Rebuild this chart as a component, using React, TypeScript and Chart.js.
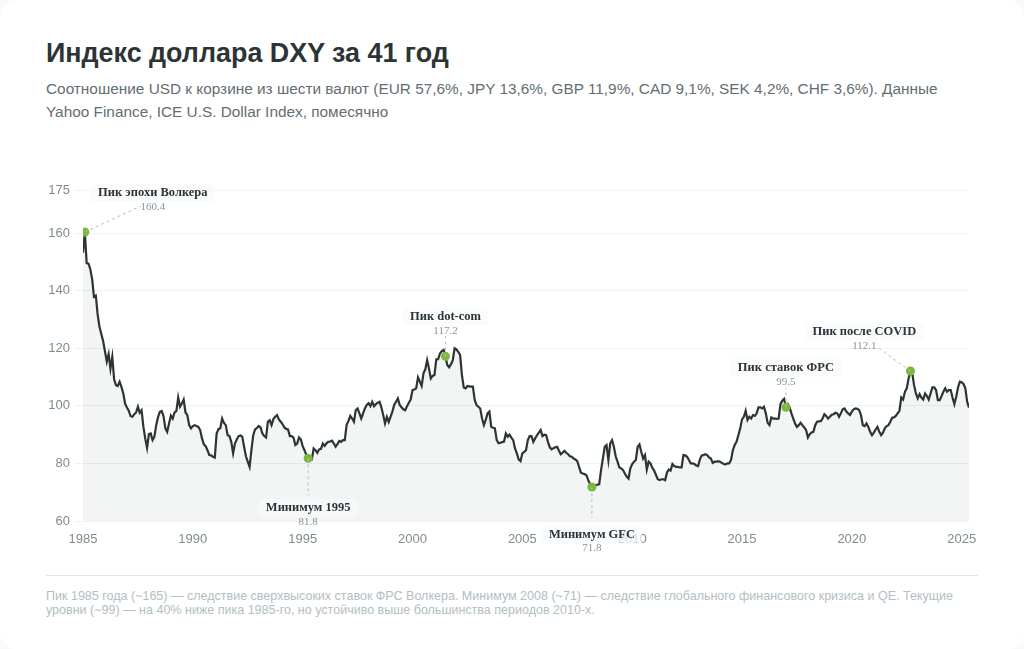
import React, { useEffect, useRef } from 'react';
import { Chart, registerables } from 'chart.js';

Chart.register(...registerables);

const startYear = 1985;

// DXY month by month, one row per year
const dxyMonthly = [
  153.2, 160.4, 149.6, 149.4, 147.5, 144, 137.9, 138.3, 131.7, 127.5, 125, 122.5,
  119, 115.4, 118, 112.9, 117, 109.2, 107.2, 106.9, 108.4, 106.6, 104.3, 100.8,
  99.4, 98.3, 96.4, 96.2, 97.1, 97.7, 99.7, 97.6, 98.5, 92.7, 88.7, 85.4,
  90.2, 90.4, 88.1, 89.3, 93.3, 96.2, 97.9, 98.2, 96.4, 92.2, 91, 93.9,
  96.6, 95.6, 97.7, 98.2, 102.9, 99.7, 100.8, 102.2, 97.7, 96.8, 93.3, 92.2,
  93, 93.3, 93, 92.7, 91.6, 88.7, 86.7, 86, 84.6, 82.9, 82.8, 82.3,
  82, 90.4, 91.9, 92.2, 95.6, 94.1, 93.3, 89.8, 89.5, 87.5, 83.5, 86.9,
  88.3, 89.5, 89.7, 89.3, 85.8, 82.5, 80.6, 78.8, 84.6, 89.8, 91.8, 92.3,
  93, 92.5, 90.4, 89.5, 89, 94.5, 95, 93.3, 95.4, 96.2, 96.8, 95.3,
  94.5, 93.7, 92.5, 92, 91.8, 89.5, 89.5, 89, 86.4, 86.9, 89, 88.3,
  86, 84.6, 82.9, 81.8, 81.4, 81.4, 85.2, 84.6, 83.7, 84.9, 85.1, 86.9,
  86.1, 87, 87.5, 87.6, 87.9, 87, 85.8, 86.7, 87.8, 87.5, 88.1, 88.1,
  93.3, 94.8, 96.5, 95.6, 94.5, 98.5, 99.1, 97.4, 95.6, 97.4, 99.1, 100.3,
  100.9, 99.9, 101.4, 99.9, 100.6, 101.1, 101.4, 99.5, 96.8, 93.9, 96.2, 94.4,
  96.2, 98, 100.3, 101.4, 102.6, 100.3, 99.5, 98.8, 98.5, 99.9, 101.1, 102.2,
  105.5, 105.7, 106.1, 109.9, 108.4, 106.9, 111.3, 112.7, 115.9, 113, 109.5, 110.4,
  110.7, 116.2, 116.2, 118.2, 119, 119.4, 117.2, 114.2, 113.4, 114.5, 115.9, 120,
  119.6, 118.8, 117.7, 110.7, 106.4, 106.1, 106.9, 106.8, 106.7, 106.7, 102, 100.3,
  99.7, 99.1, 95.6, 93.3, 95.1, 97.4, 98, 92.7, 92.4, 92.2, 88.1, 87,
  87.2, 87.4, 87.6, 90.4, 89.3, 90, 89, 88.1, 85.2, 83.5, 81.4, 80.8,
  83.5, 84, 84.6, 88.1, 89.5, 89.5, 87.5, 88.7, 89.8, 90.7, 91.6, 89.5,
  90, 89.8, 87.5, 85.6, 84.9, 85.3, 85.6, 85.8, 84.4, 83.2, 83.7, 84.4,
  83.7, 83.2, 82.5, 82.3, 81.7, 81.4, 80.8, 78.8, 76.8, 76.5, 76.3, 75.9,
  74.2, 72.8, 71.8, 72.1, 72.4, 72.6, 72.8, 77.7, 81.7, 85.8, 86.4, 81.2,
  86.9, 88.1, 85.8, 82.5, 80.6, 78.6, 78.3, 77.7, 76.5, 75.4, 74.7, 78.3,
  79.8, 80.6, 81.2, 85.8, 86.6, 84, 81.7, 82.9, 77.9, 80.6, 80, 78.5,
  77.5, 76, 74.5, 74.2, 74.5, 74.5, 74.2, 76.8, 77.9, 77.5, 79.8, 79.1,
  78.8, 78.8, 78.6, 78.6, 82.9, 82.8, 82.3, 81.2, 80, 80, 79.8, 79.3,
  79.1, 81.4, 82.8, 82.9, 83.2, 82.9, 82.1, 81.7, 80.2, 80.6, 80.6, 80.8,
  80.6, 80.2, 79.8, 79.7, 80, 80, 81.2, 84.6, 86.4, 87.5, 89.8, 92.1,
  95.3, 96.2, 98.3, 95.1, 96.2, 95.6, 96.8, 96.5, 97.4, 99.5, 99.5, 99.1,
  99.7, 97.4, 94.1, 93.3, 96, 95.6, 95.6, 95.5, 95.6, 100.6, 101.8, 102.4,
  99.5, 100.6, 99.5, 97.4, 95.6, 93.9, 92.7, 93.3, 94.1, 93.3, 92.5, 91.6,
  89, 90.2, 90.8, 91, 93.3, 94.5, 94.6, 94.7, 95.6, 97.1, 96.5, 95.6,
  96.2, 96.9, 97.1, 97.6, 97.4, 96.2, 97.4, 98.8, 99.1, 98, 97.4, 96.8,
  98, 98.8, 99.1, 99, 98.5, 96.8, 93.3, 93, 93.9, 92.7, 91, 89.8,
  90.7, 91.8, 92.7, 91, 89.8, 90.7, 92.2, 93, 93.3, 94.5, 95.9, 96,
  96.5, 97.4, 98.3, 102.9, 102.2, 104.9, 106.1, 109.5, 112.1, 111.3, 107.2, 104.3,
  102.6, 104.1, 102.9, 102.2, 104.3, 103.4, 102.2, 104.3, 106.4, 106.4, 105.5, 102,
  102, 103.4, 104.9, 106.1, 104.9, 105.5, 105.5, 102.9, 100.6, 103.2, 106.4, 108.4,
  108.2, 107.6, 106.1, 101.4, 99.4,
];

const yTicks = [60, 80, 100, 120, 140, 160, 175];

// months since Jan 1985, names and values of the marked points
const markerMonths = [1, 123, 198, 278, 384, 452];
const markerNames = ['Пик эпохи Волкера', 'Минимум 1995', 'Пик dot-com', 'Минимум GFC', 'Пик ставок ФРС', 'Пик после COVID'];
const markerValues = [160.4, 81.8, 117.2, 71.8, 99.5, 112.1];

// where each label and leader sits, in px relative to its marker
const calloutLayout = [
  { dx: 68, dy: -39, lineTo: [56, -26] },
  { dx: 0, dy: 50, lineTo: [0, 37] },
  { dx: 0, dy: -39.5, lineTo: [0, -20] },
  { dx: 0, dy: 47.5, lineTo: [0, 31] },
  { dx: 0, dy: -39.5, lineTo: [0, -19] },
  { dx: -46, dy: -39, lineTo: [-33, -24] },
];

const callouts = {
  id: 'callouts',
  afterDraw(chart: Chart) {
    const { ctx, scales } = chart;
    markerMonths.forEach((month, i) => {
      const px = scales.x.getPixelForValue(startYear + month / 12);
      const py = scales.y.getPixelForValue(markerValues[i]);
      const { dx, dy, lineTo } = calloutLayout[i];
      const cx = px + dx;
      const cy = py + dy;

      ctx.save();
      ctx.setLineDash([3, 3]);
      ctx.lineWidth = 1;
      ctx.strokeStyle = '#b2bec3';
      ctx.beginPath();
      ctx.moveTo(px, py);
      ctx.lineTo(px + lineTo[0], py + lineTo[1]);
      ctx.stroke();
      ctx.setLineDash([]);

      ctx.font = 'bold 12.5px "Liberation Serif"';
      const boxW = ctx.measureText(markerNames[i]).width + 14;
      // the box is see-through: the 2010 tick shows under the GFC label
      ctx.fillStyle = 'rgba(248, 249, 251, 0.72)';
      ctx.fillRect(cx - boxW / 2, cy - 9, boxW, 18);

      ctx.textAlign = 'center';
      ctx.textBaseline = 'middle';
      ctx.fillStyle = '#2d3436';
      ctx.fillText(markerNames[i], cx, cy);
      ctx.font = '11px "Liberation Serif"';
      ctx.fillStyle = '#8a9499';
      ctx.fillText(markerValues[i].toFixed(1), cx, cy + 14);
      ctx.restore();
    });
  },
};

export default function App() {
  const canvasRef = useRef<HTMLCanvasElement>(null);

  useEffect(() => {
    document.body.style.margin = '0';
    document.body.style.background = '#f8f9fa';
    if (!canvasRef.current) return;

    const chart = new Chart(canvasRef.current, {
      type: 'line',
      data: {
        datasets: [
          {
            label: 'Маркеры',
            data: markerMonths.map((m, i) => ({ x: startYear + m / 12, y: markerValues[i] })),
            showLine: false,
            pointRadius: 4.5,
            pointBackgroundColor: '#7cb83a',
            pointBorderWidth: 0,
            order: 0,
          },
          {
            label: 'DXY',
            data: dxyMonthly.map((y, i) => ({ x: startYear + i / 12, y })),
            borderColor: '#2d3436',
            borderWidth: 2.2,
            backgroundColor: 'rgba(45, 70, 70, 0.06)',
            fill: 'start',
            pointRadius: 0,
            tension: 0,
            order: 1,
          },
        ],
      },
      options: {
        animation: false,
        responsive: false,
        layout: { padding: { top: 20, right: 9, left: 0, bottom: 0 } },
        plugins: { legend: { display: false }, tooltip: { enabled: false } },
        scales: {
          x: {
            type: 'linear',
            min: startYear,
            max: startYear + 484 / 12,
            afterFit: (scale: any) => {
              scale.height = 39;
              scale.paddingLeft = 0;
              scale.paddingRight = 0;
            },
            afterBuildTicks: (scale: any) => {
              scale.ticks = [1985, 1990, 1995, 2000, 2005, 2010, 2015, 2020, 2025].map((value) => ({ value }));
            },
            grid: { display: false },
            border: { display: false },
            ticks: {
              color: '#7f8c8d',
              font: { family: 'Liberation Sans', size: 13 },
              padding: 3,
              maxRotation: 0,
              autoSkip: false,
              callback: (v: any) => String(v),
            },
          },
          y: {
            min: 60,
            max: 175,
            afterFit: (scale: any) => { scale.width = 37; },
            afterBuildTicks: (scale: any) => {
              scale.ticks = yTicks.map((value) => ({ value }));
            },
            grid: { color: '#f0f2f3', lineWidth: 1, tickLength: 8 },
            border: { display: false },
            ticks: {
              color: '#7f8c8d',
              font: { family: 'Liberation Sans', size: 13 },
              padding: 5,
            },
          },
        },
      },
      plugins: [callouts],
    });

    return () => chart.destroy();
  }, []);

  return (
    <div style={{ position: 'relative', width: 1024, height: 649, background: '#fff', borderRadius: 16, overflow: 'hidden', fontFamily: '"Liberation Sans", sans-serif' }}>
      <div style={{ position: 'absolute', left: 46, top: 37, fontSize: 26.88, fontWeight: 700, color: '#2d3436', lineHeight: '33px', whiteSpace: 'nowrap' }}>
        Индекс доллара DXY за 41 год
      </div>
      <div style={{ position: 'absolute', left: 46, top: 77, width: 932, fontSize: 15.36, color: '#636e72', lineHeight: '23px' }}>
        Соотношение USD к корзине из шести валют (EUR 57,6%, JPY 13,6%, GBP 11,9%, CAD 9,1%, SEK 4,2%, CHF 3,6%). Данные Yahoo Finance, ICE U.S. Dollar Index, помесячно
      </div>
      <canvas ref={canvasRef} width={932} height={390} style={{ position: 'absolute', left: 46, top: 170, width: 932, height: 390 }} />
      <div style={{ position: 'absolute', left: 46, top: 575, width: 932, borderTop: '1px solid #dfe6e9' }} />
      <div style={{ position: 'absolute', left: 46, top: 589, width: 932, fontSize: 12.52, color: '#b2bec3', lineHeight: '14px' }}>
        Пик 1985 года (~165) — следствие сверхвысоких ставок ФРС Волкера. Минимум 2008 (~71) — следствие глобального финансового кризиса и QE. Текущие уровни (~99) — на 40% ниже пика 1985-го, но устойчиво выше большинства периодов 2010-х.
      </div>
    </div>
  );
}
